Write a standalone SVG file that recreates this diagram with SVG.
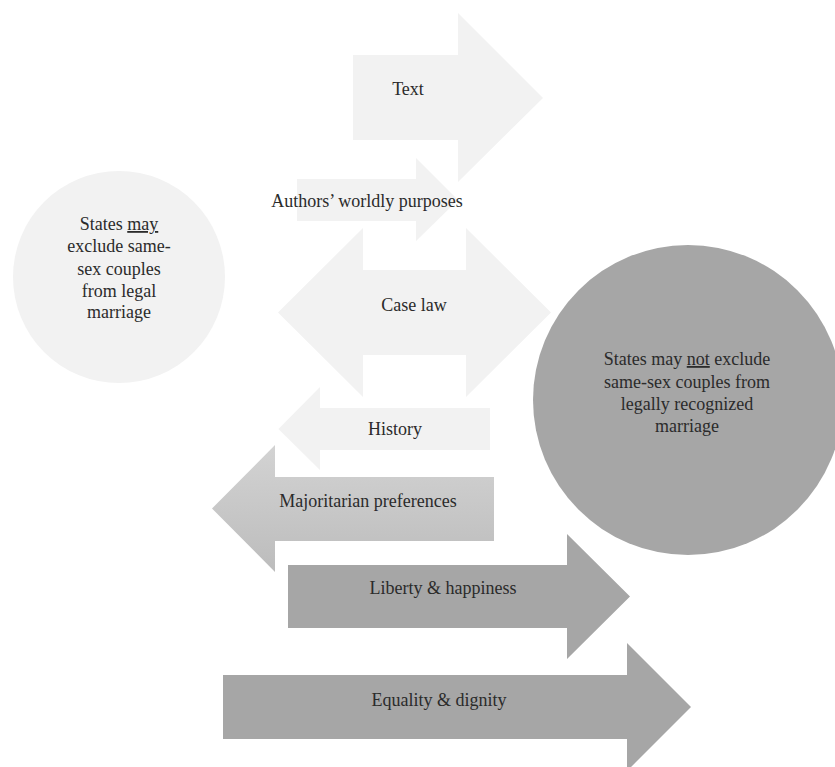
<svg xmlns="http://www.w3.org/2000/svg" width="835" height="767" viewBox="0 0 835 767">
  <defs>
    <linearGradient id="gradMajority" x1="0" y1="0" x2="0" y2="1">
      <stop offset="0" stop-color="#d3d3d3"/>
      <stop offset="1" stop-color="#bcbcbc"/>
    </linearGradient>
    <style>
      .light { fill: #f2f2f2; }
      .dark { fill: #a6a6a6; }
      .mid { fill: url(#gradMajority); }
      .lbl { font-size: 18px; fill: #2b2b2b; text-anchor: middle; }
    </style>
  </defs>
  <rect width="835" height="767" fill="#ffffff"/>

  <g font-family="Liberation Serif, DejaVu Serif, serif">
  <!-- arrows (evidence strands) -->
  <g id="arrows">
    <g id="text-arrow">
      <polygon class="light" points="353,55 458,55 458,13 543,98 458,182 458,140 353,140"/>
      <text class="lbl" x="408" y="95">Text</text>
    </g>
    <g id="authors-arrow">
      <polygon class="light" points="297,179 416,179 416,158 458,200 416,241 416,221 297,221"/>
      <text class="lbl" x="367" y="207">Authors’ worldly purposes</text>
    </g>
    <g id="case-law-arrow">
      <polygon class="light" points="278,312.5 363,228 363,270 466,270 466,228 551,312.5 466,397 466,355 363,355 363,397"/>
      <text class="lbl" x="414" y="311">Case law</text>
    </g>
    <g id="history-arrow">
      <polygon class="light" points="490,408 320,408 320,387 278.5,429 320,470 320,450 490,450"/>
      <text class="lbl" x="395" y="435">History</text>
    </g>
    <g id="majoritarian-arrow">
      <polygon class="mid" points="494,477 275,477 275,445 212,508.5 275,572 275,541 494,541"/>
      <text class="lbl" x="368" y="507">Majoritarian preferences</text>
    </g>
    <g id="liberty-arrow">
      <polygon class="dark" points="288,565 567,565 567,534 630,596.5 567,659 567,628 288,628"/>
      <text class="lbl" x="443" y="594">Liberty &amp; happiness</text>
    </g>
    <g id="equality-arrow">
      <polygon class="dark" points="223,675 627,675 627,643 691,707 627,771 627,739 223,739"/>
      <text class="lbl" x="439" y="706">Equality &amp; dignity</text>
    </g>
  </g>

  <!-- outcomes -->
  <g id="may-exclude">
    <circle class="light" cx="119" cy="277" r="106"/>
    <text class="lbl" x="119" y="230">States <tspan text-decoration="underline">may</tspan></text>
    <text class="lbl" x="119" y="252">exclude same-</text>
    <text class="lbl" x="119" y="275">sex couples</text>
    <text class="lbl" x="119" y="297">from legal</text>
    <text class="lbl" x="119" y="318">marriage</text>
  </g>
  <g id="may-not-exclude">
    <circle class="dark" cx="688" cy="400" r="155"/>
    <text class="lbl" x="687" y="365">States may <tspan text-decoration="underline">not</tspan> exclude</text>
    <text class="lbl" x="687" y="388">same-sex couples from</text>
    <text class="lbl" x="687" y="410">legally recognized</text>
    <text class="lbl" x="687" y="432">marriage</text>
  </g>
  </g>
</svg>
